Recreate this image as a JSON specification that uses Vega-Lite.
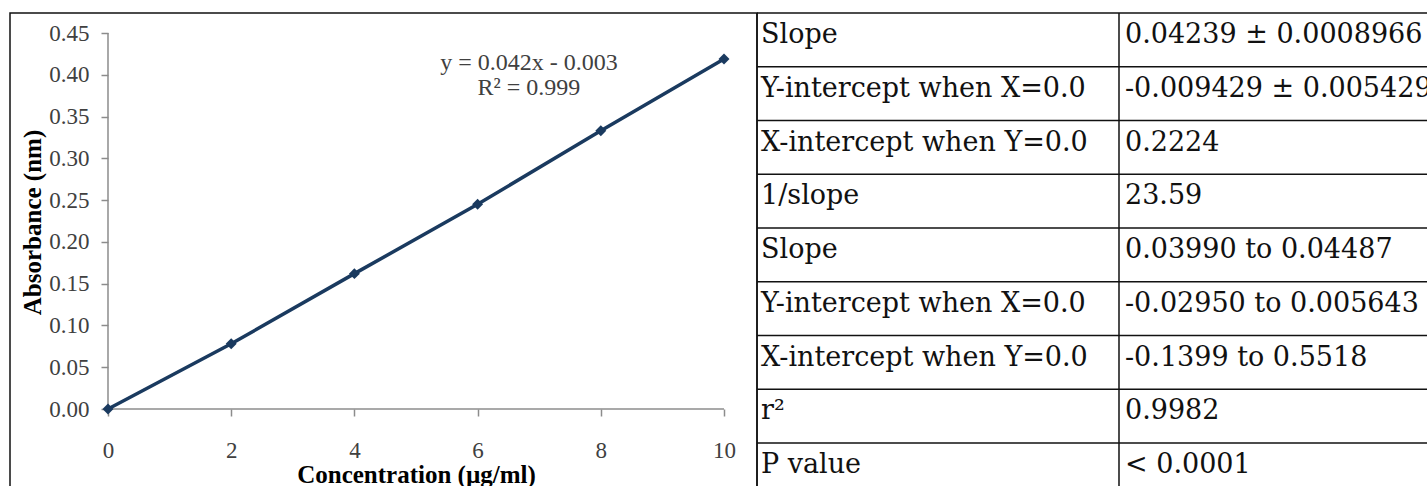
{
  "$schema": "https://vega.github.io/schema/vega-lite/v6.json",
  "background": "white",
  "padding": {"left": 9, "top": 12, "right": 0, "bottom": 0},
  "bounds": "flush",
  "spacing": 0,
  "config": {"view": {"stroke": null}, "font": "Liberation Serif"},
  "datasets": {
    "calib": [
      {"conc": 0, "abs": 0.0},
      {"conc": 2, "abs": 0.078},
      {"conc": 4, "abs": 0.162},
      {"conc": 6, "abs": 0.245},
      {"conc": 8, "abs": 0.333},
      {"conc": 10, "abs": 0.419}
    ],
    "stats": [
      {"row": 0, "label": "Slope", "value": "0.04239 ± 0.0008966"},
      {"row": 1, "label": "Y-intercept when X=0.0", "value": "-0.009429 ± 0.005429"},
      {"row": 2, "label": "X-intercept when Y=0.0", "value": "0.2224"},
      {"row": 3, "label": "1/slope", "value": "23.59"},
      {"row": 4, "label": "Slope", "value": "0.03990 to 0.04487"},
      {"row": 5, "label": "Y-intercept when X=0.0", "value": "-0.02950 to 0.005643"},
      {"row": 6, "label": "X-intercept when Y=0.0", "value": "-0.1399 to 0.5518"},
      {"row": 7, "label": "r²", "value": "0.9982"},
      {"row": 8, "label": "P value", "value": "< 0.0001"}
    ],
    "cols": [{"col": 0}, {"col": 1}],
    "one": [{"k": 1}]
  },
  "hconcat": [
    {
      "width": 747,
      "height": 474,
      "view": {"stroke": "#111111", "strokeWidth": 1.5},
      "layer": [
        {
          "data": {"name": "one"},
          "mark": {"type": "rule", "color": "#8c8c8c", "strokeWidth": 1.5},
          "encoding": {
            "x": {"datum": 0, "type": "quantitative"},
            "y": {"datum": 0, "type": "quantitative"},
            "y2": {"datum": 0.45}
          }
        },
        {
          "data": {"name": "one"},
          "mark": {"type": "rule", "color": "#8c8c8c", "strokeWidth": 1.5},
          "encoding": {
            "y": {"datum": 0, "type": "quantitative"},
            "x": {"datum": 0, "type": "quantitative"},
            "x2": {"datum": 10}
          }
        },
        {
          "data": {"name": "calib"},
          "mark": {
            "type": "line",
            "color": "#1a3a5f",
            "strokeWidth": 3.5,
            "point": {"shape": "diamond", "filled": true, "size": 120, "color": "#1a3a5f"}
          },
          "encoding": {
            "x": {
              "field": "conc",
              "type": "quantitative",
              "scale": {"domain": [-1.5909, 10.5357], "nice": false, "zero": false},
              "axis": {
                "orient": "bottom",
                "offset": -78,
                "values": [0, 2, 4, 6, 8, 10],
                "format": "d",
                "domain": false,
                "grid": false,
                "tickSize": 7,
                "tickColor": "#8c8c8c",
                "tickWidth": 1.5,
                "labelFont": "Liberation Serif",
                "labelFontSize": 23,
                "labelColor": "#404040",
                "labelPadding": 23,
                "labelFlush": false,
                "labelOverlap": false,
                "title": "Concentration (µg/ml)",
                "titleFont": "Liberation Serif",
                "titleFontSize": 25,
                "titleFontWeight": "bold",
                "titleColor": "#000000",
                "titlePadding": 0,
                "titleX": 406
              }
            },
            "y": {
              "field": "abs",
              "type": "quantitative",
              "scale": {"domain": [-0.09335, 0.47394], "nice": false, "zero": false},
              "axis": {
                "orient": "left",
                "offset": -98,
                "values": [0, 0.05, 0.1, 0.15, 0.2, 0.25, 0.3, 0.35, 0.4, 0.45],
                "format": ".2f",
                "domain": false,
                "grid": false,
                "tickSize": 7,
                "tickColor": "#8c8c8c",
                "tickWidth": 1.5,
                "labelFont": "Liberation Serif",
                "labelFontSize": 23,
                "labelColor": "#404040",
                "labelPadding": 12,
                "labelFlush": false,
                "labelOverlap": false,
                "title": "Absorbance (nm)",
                "titleFont": "Liberation Serif",
                "titleFontSize": 25,
                "titleFontWeight": "bold",
                "titleColor": "#000000",
                "titlePadding": 3,
                "titleY": 209
              }
            }
          }
        },
        {
          "data": {"name": "one"},
          "mark": {
            "type": "text",
            "font": "Liberation Serif",
            "fontSize": 24,
            "color": "#404040",
            "align": "center",
            "baseline": "middle",
            "lineHeight": 25
          },
          "encoding": {
            "x": {"datum": 6.834, "type": "quantitative"},
            "y": {"datum": 0.4141, "type": "quantitative"},
            "text": {"value": ["y = 0.042x - 0.003", "R² = 0.999"]}
          }
        }
      ]
    },
    {
      "width": 670,
      "height": 474,
      "data": {"name": "stats"},
      "layer": [
        {
          "mark": {"type": "rule", "color": "#111111", "strokeWidth": 1.5},
          "encoding": {
            "y": {
              "field": "row",
              "type": "quantitative",
              "scale": {"domain": [0, 8.8186], "reverse": true, "nice": false, "zero": false},
              "axis": null
            }
          }
        },
        {
          "data": {"name": "cols"},
          "mark": {"type": "rule", "color": "#111111", "strokeWidth": 1.5},
          "encoding": {
            "x": {
              "field": "col",
              "type": "quantitative",
              "scale": {"domain": [0, 1.85083], "nice": false, "zero": false},
              "axis": null
            }
          }
        },
        {
          "mark": {
            "type": "text",
            "font": "DejaVu Serif",
            "fontSize": 27,
            "color": "#111111",
            "align": "left",
            "baseline": "middle",
            "dx": 4,
            "dy": 22,
            "clip": true
          },
          "encoding": {
            "x": {"datum": 0, "type": "quantitative", "axis": null},
            "y": {"field": "row", "type": "quantitative", "axis": null},
            "text": {"field": "label"}
          }
        },
        {
          "mark": {
            "type": "text",
            "font": "DejaVu Serif",
            "fontSize": 27,
            "color": "#111111",
            "align": "left",
            "baseline": "middle",
            "dx": 6,
            "dy": 22,
            "clip": true
          },
          "encoding": {
            "x": {"datum": 1, "type": "quantitative", "axis": null},
            "y": {"field": "row", "type": "quantitative", "axis": null},
            "text": {"field": "value"}
          }
        }
      ]
    }
  ]
}
